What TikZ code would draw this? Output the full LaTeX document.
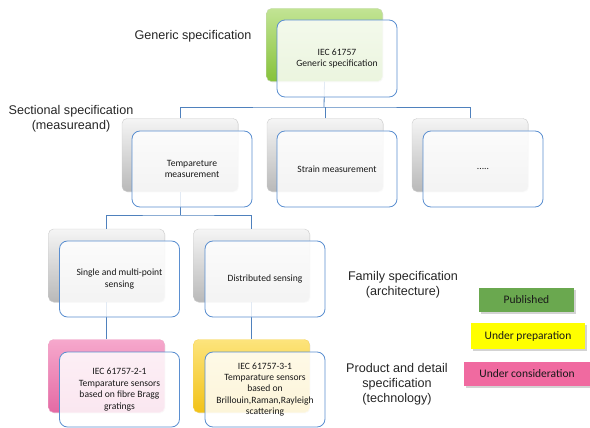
\documentclass[tikz,border=0pt]{standalone}
\usepackage{fontspec}
\setmainfont{Carlito}
\newfontfamily\arialf{Liberation Sans}
\usetikzlibrary{shadows}
\definecolor{lineblue}{HTML}{4F81BD}
\definecolor{frontblue}{HTML}{5B8FD0}
\definecolor{pubgreen}{HTML}{6AA84F}
\definecolor{prepyellow}{HTML}{FFFF00}
\definecolor{conspink}{HTML}{F06AA0}
\definecolor{gtop}{HTML}{C2E494}
\definecolor{gbot}{HTML}{86C23A}
\definecolor{ptop}{HTML}{F6A8CC}
\definecolor{pbot}{HTML}{E46AA4}
\definecolor{ytop}{HTML}{FDE47C}
\definecolor{ybot}{HTML}{F2C218}
\tikzset{
  backbox/.style={rectangle, rounded corners=5pt, minimum width=116pt, minimum height=73pt, inner sep=0pt, drop shadow={opacity=0.2, shadow xshift=0.8pt, shadow yshift=-0.8pt}},
  graybox/.style={backbox, top color=gray!8, bottom color=gray!55, draw=gray!40},
  greenbox/.style={backbox, top color=gtop, bottom color=gbot, draw=gbot!80!black!40},
  pinkbox/.style={backbox, top color=ptop, bottom color=pbot, draw=pbot!60},
  yellowbox/.style={backbox, top color=ytop, bottom color=ybot, draw=ybot!70},
  frontbox/.style={rectangle, rounded corners=8pt, minimum width=120pt, minimum height=76pt, inner sep=2pt, draw=frontblue, line width=0.8pt, fill=white, fill opacity=0.84, text opacity=1, align=center, font=\fontsize{9.6}{11.4}\selectfont, text=black!90},
  conn/.style={draw=lineblue, line width=0.8pt},
  lab/.style={font=\arialf\fontsize{12.6}{15}\selectfont, align=center, text=black!85},
  legend/.style={rectangle, minimum height=24pt, inner sep=0pt, font=\fontsize{11.5}{13}\selectfont, text=black!90, drop shadow={opacity=0.35, shadow xshift=1.5pt, shadow yshift=-1.5pt}}
}
\begin{document}
\begin{tikzpicture}[x=1pt, y=-1pt]
\useasboundingbox (0,0) rectangle (590,428);
% back boxes
\node[greenbox] (gb) at (324.5,45) {};
\node[graybox] (t2) at (180,155) {};
\node[graybox] (s2) at (325,155) {};
\node[graybox] (d2) at (470,155) {};
\node[graybox] (a3) at (106.5,265.5) {};
\node[graybox] (b3) at (251.5,265.5) {};
\node[pinkbox] (a4) at (106.5,376) {};
\node[yellowbox] (b4) at (251.5,376) {};
% connectors
\coordinate (h1) at (324,107);
\coordinate (h2) at (178,215);
\draw[conn] (gb.south) -- (h1);
\draw[conn] (t2.north) |- (h1) -| (d2.north);
\draw[conn] (s2.north) -- (s2.north |- h1);
\draw[conn] (t2.south) -- (t2.south |- h2);
\draw[conn] (a3.north) |- (h2) -| (b3.north);
\draw[conn] (a3.south) -- (a4.north);
\draw[conn] (b3.south) -- (b4.north);
% front boxes
\node[frontbox, minimum height=77pt] (gf) at (337,58.5) {IEC 61757\\Generic specification};
\node[frontbox] (tf) at (192,169) {Tempareture\\measurement};
\node[frontbox] (sf) at (337,169) {Strain measurement};
\node[frontbox] (df) at (483,169) {.....};
\node[frontbox] (af) at (119.5,279) {Single and multi-point\\sensing};
\node[frontbox] (bf) at (265,279) {Distributed sensing};
\node[frontbox, minimum height=75pt] (a4f) at (119.5,389.5) {IEC 61757-2-1\\Temparature sensors\\based on fibre Bragg\\gratings};
\node[frontbox, minimum height=75pt] (b4f) at (265,389.5) {IEC 61757-3-1\\Temparature sensors\\based on\\Brillouin,Raman,Rayleigh\\scattering};
% labels
\node[lab] (lg) at (193,36) {Generic specification};
\node[lab] (ls) at (71,119) {Sectional specification\\(measureand)};
\node[lab] (lf) at (403,285) {Family specification\\(architecture)};
\node[lab] (lp) at (397,384) {Product and detail\\specification\\(technology)};
% legend
\node[legend, fill=pubgreen, minimum width=95pt] (pub) at (526.5,300) {Published};
\node[legend, fill=prepyellow, minimum width=114pt, minimum height=26pt] (prep) at (528,336) {Under preparation};
\node[legend, fill=conspink, minimum width=126pt] (cons) at (527,374) {Under consideration};
\end{tikzpicture}
\end{document}
